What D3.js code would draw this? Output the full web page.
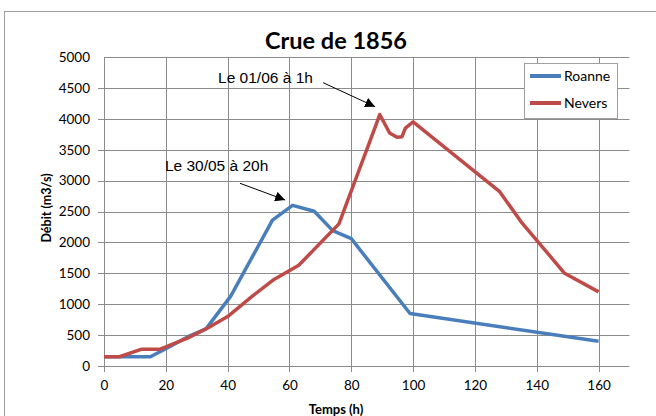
<!DOCTYPE html>
<html>
<head>
<meta charset="utf-8">
<script src="https://cdn.jsdelivr.net/npm/d3@7"></script>
<style>
  body { margin: 0; background: #fff; }
  svg { display: block; }
</style>
</head>
<body>
<div class="canvas"></div>
<script>
// data (time in hours, flow in m3/s)
const roanneT = [0, 15, 20, 27, 33, 41, 54.5, 61, 68, 74, 80, 99, 160];
const roanneQ = [150, 150, 280, 470, 600, 1130, 2360, 2600, 2505, 2190, 2060, 850, 400];

const neversT = [0, 5, 12, 18, 27, 33, 40, 48, 55, 63, 76, 88, 89.2, 92.4, 94.8, 96.4, 97.5, 100, 128, 135, 149, 160];
const neversQ = [150, 150, 270, 270, 450, 600, 800, 1130, 1400, 1630, 2300, 3900, 4070, 3770, 3700, 3710, 3850, 3950, 2820, 2330, 1500, 1200];

const seriesNames = ['Roanne', 'Nevers'];
const xTicks = [0, 20, 40, 60, 80, 100, 120, 140, 160];
const yTicks = [0, 500, 1000, 1500, 2000, 2500, 3000, 3500, 4000, 4500, 5000];

// annotations, in data units: text anchor, arrow tail, arrow tip
const noteLabels = ['Le 01/06 à 1h', 'Le 30/05 à 20h'];
const noteText = [[36.9, 4573], [19.7, 3160]];
const noteFrom = [[70.9, 4584], [44, 2956]];
const noteTo = [[87.7, 4196], [58.6, 2686]];

const dims = { width: 656, height: 416 };
const plot = { left: 104, right: 629.5, top: 57, bottom: 366 };
const colours = { Roanne: '#4a7ebb', Nevers: '#be4b48' };
const gridCol = '#8c8c8c';
const labelFont = 'Lato, "Open Sans", sans-serif';

const svg = d3.select('.canvas')
    .append('svg')
    .attr('width', dims.width)
    .attr('height', dims.height);

// chart frame (runs off the right and bottom of the picture)
svg.append('rect')
    .attr('x', 4.5).attr('y', 11.5)
    .attr('width', 800).attr('height', 600)
    .attr('fill', 'none')
    .attr('stroke', '#a0a0a0');

const x = d3.scaleLinear().domain([0, 170]).range([plot.left, plot.right]);
const y = d3.scaleLinear().domain([0, 5000]).range([plot.bottom, plot.top]);

// grid
const grid = svg.append('g');
grid.selectAll('.hgrid')
    .data(yTicks)
    .enter().append('line')
    .attr('x1', d => d === 5000 ? plot.left : plot.left - 6)
    .attr('x2', plot.right)
    .attr('y1', d => Math.round(y(d)) + 0.5)
    .attr('y2', d => Math.round(y(d)) + 0.5)
    .attr('stroke', gridCol);

grid.selectAll('.vgrid')
    .data(xTicks)
    .enter().append('line')
    .attr('x1', d => Math.round(x(d)) + 0.5)
    .attr('x2', d => Math.round(x(d)) + 0.5)
    .attr('y1', plot.top)
    .attr('y2', plot.bottom + 6)
    .attr('stroke', gridCol);

// axes (labels only, lines drawn by the grid)
const xAxis = svg.append('g')
    .attr('transform', `translate(0, ${plot.bottom})`)
    .call(d3.axisBottom(x).tickValues(xTicks).tickFormat(d3.format('d')).tickSize(0).tickPadding(14));
const yAxis = svg.append('g')
    .attr('transform', `translate(${plot.left}, 0)`)
    .call(d3.axisLeft(y).tickValues(yTicks).tickFormat(d3.format('d')).tickSize(0).tickPadding(14));

[xAxis, yAxis].forEach(a => {
    a.select('.domain').remove();
    a.selectAll('text')
        .attr('font-family', labelFont)
        .attr('font-size', 13.5)
        .attr('fill', '#000');
});

// series lines
const line = d3.line()
    .x(d => x(d[0]))
    .y(d => y(d[1]));

const series = [
    { name: 'Roanne', pts: roanneT.map((t, i) => [t, roanneQ[i]]) },
    { name: 'Nevers', pts: neversT.map((t, i) => [t, neversQ[i]]) }
];

svg.selectAll('.series')
    .data(series)
    .enter().append('path')
    .attr('d', d => line(d.pts))
    .attr('fill', 'none')
    .attr('stroke', d => colours[d.name])
    .attr('stroke-width', 3.5)
    .attr('stroke-linejoin', 'round');

// title and axis titles
svg.append('text')
    .attr('x', 336).attr('y', 49)
    .attr('text-anchor', 'middle')
    .attr('font-family', labelFont)
    .attr('font-weight', 'bold')
    .attr('font-size', 23.5)
    .text('Crue de 1856');

svg.append('text')
    .attr('transform', 'translate(51, 208) rotate(-90)')
    .attr('text-anchor', 'middle')
    .attr('font-family', labelFont)
    .attr('font-weight', 'bold')
    .attr('font-size', 12.5)
    .text('Débit (m3/s)');

svg.append('text')
    .attr('x', 336).attr('y', 414)
    .attr('text-anchor', 'middle')
    .attr('font-family', labelFont)
    .attr('font-weight', 'bold')
    .attr('font-size', 13)
    .text('Temps (h)');

// annotations with arrows
svg.append('defs').append('marker')
    .attr('id', 'head')
    .attr('viewBox', '0 0 10 10')
    .attr('refX', 10).attr('refY', 5)
    .attr('markerWidth', 10).attr('markerHeight', 10)
    .attr('markerUnits', 'userSpaceOnUse')
    .attr('orient', 'auto')
    .append('path')
    .attr('d', 'M0,0 L10,5 L0,10 Z')
    .attr('fill', '#000');

noteLabels.forEach((lbl, i) => {
    svg.append('text')
        .attr('x', x(noteText[i][0]))
        .attr('y', y(noteText[i][1]))
        .attr('font-family', '"Liberation Sans", Arial, sans-serif')
        .attr('font-size', 15.5)
        .text(lbl);
    svg.append('line')
        .attr('x1', x(noteFrom[i][0])).attr('y1', y(noteFrom[i][1]))
        .attr('x2', x(noteTo[i][0])).attr('y2', y(noteTo[i][1]))
        .attr('stroke', '#000')
        .attr('stroke-width', 1)
        .attr('marker-end', 'url(#head)');
});

// legend
const legendGroup = svg.append('g').attr('transform', 'translate(524, 63)');
legendGroup.append('rect')
    .attr('x', 0.5).attr('y', 0.5)
    .attr('width', 93).attr('height', 55)
    .attr('fill', '#fff')
    .attr('stroke', '#a0a0a0');

const items = legendGroup.selectAll('.item')
    .data(seriesNames)
    .enter().append('g')
    .attr('transform', (d, i) => `translate(0, ${13 + i * 27})`);
items.append('line')
    .attr('x1', 6).attr('x2', 37)
    .attr('stroke', d => colours[d])
    .attr('stroke-width', 4);
items.append('text')
    .attr('x', 40).attr('dy', '0.35em')
    .attr('font-family', labelFont)
    .attr('font-size', 14)
    .text(d => d);
</script>
</body>
</html>
